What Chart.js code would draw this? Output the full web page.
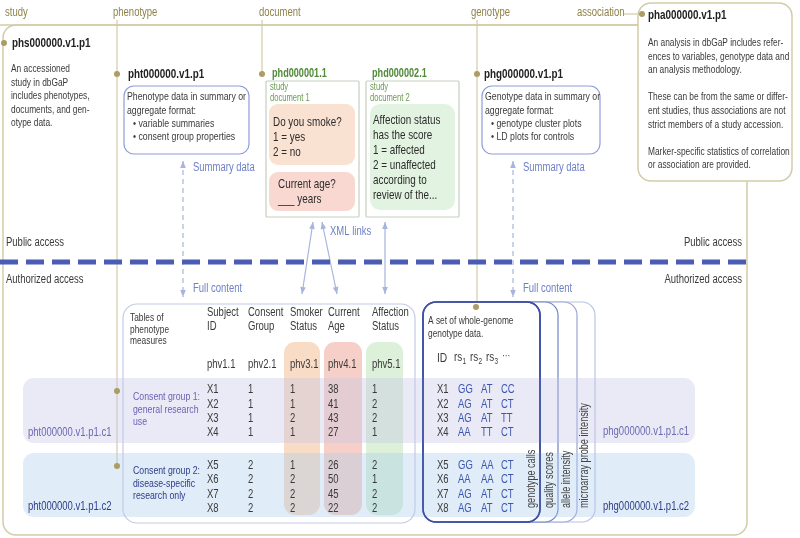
<!DOCTYPE html>
<html>
<head>
<meta charset="utf-8">
<script src="https://cdn.jsdelivr.net/npm/chart.js@4.4.0/dist/chart.umd.min.js"></script>
<style>
  html, body { margin: 0; padding: 0; background: #fff; }
  canvas { display: block; }
</style>
</head>
<body>
<canvas id="dbgapChart" width="800" height="538"></canvas>
<script>
// ---- diagram content ----
const columnLabels = ['study', 'phenotype', 'document', 'genotype', 'association'];
const studyId = 'phs000000.v1.p1';
const phenotypeId = 'pht000000.v1.p1';
const documentIds = ['phd000001.1', 'phd000002.1'];
const documentNames = [['study', 'document 1'], ['study', 'document 2']];
const genotypeId = 'phg000000.v1.p1';
const analysisId = 'pha000000.v1.p1';

const studyText = ['An accessioned', 'study in dbGaP', 'includes phenotypes,', 'documents, and gen-', 'otype data.'];
const analysisText = [
  'An analysis in dbGaP includes refer-', 'ences to variables, genotype data and', 'an analysis methodology.', '',
  'These can be from the same or differ-', 'ent studies, thus associations are not', 'strict members of a study accession.', '',
  'Marker-specific statistics of correlation', 'or association are provided.'
];
const phenotypeSummary = ['Phenotype data in summary or', 'aggregate format:', '• variable summaries', '• consent group properties'];
const genotypeSummary = ['Genotype data in summary or', 'aggregate format:', '• genotype cluster plots', '• LD plots for controls'];
const smokeQuestion = ['Do you smoke?', '1 = yes', '2 = no'];
const ageQuestion = ['Current age?', '___ years'];
const affectionQuestion = ['Affection status', 'has the score', '1 = affected', '2 = unaffected', 'according to', 'review of the...'];
const linkLabels = ['Summary data', 'Full content', 'XML links'];
const accessLabels = ['Public access', 'Authorized access'];

const tableTitle = ['Tables of', 'phenotype', 'measures'];
const tableHeaders = [['Subject', 'ID'], ['Consent', 'Group'], ['Smoker', 'Status'], ['Current', 'Age'], ['Affection', 'Status']];
const variableIds = ['phv1.1', 'phv2.1', 'phv3.1', 'phv4.1', 'phv5.1'];
const subjectIds = ['X1', 'X2', 'X3', 'X4', 'X5', 'X6', 'X7', 'X8'];
const consentGroup = [1, 1, 1, 1, 2, 2, 2, 2];
const smokerStatus = [1, 1, 2, 1, 1, 2, 2, 2];
const currentAge = [38, 41, 43, 27, 26, 50, 45, 22];
const affectionStatus = [1, 2, 2, 1, 2, 1, 2, 2];
const consentGroups = [['Consent group 1:', 'general research', 'use'], ['Consent group 2:', 'disease-specific', 'research only']];
const phenotypeSubsets = ['pht000000.v1.p1.c1', 'pht000000.v1.p1.c2'];
const genotypeSubsets = ['phg000000.v1.p1.c1', 'phg000000.v1.p1.c2'];

const genomeText = ['A set of whole-genome', 'genotype data.'];
const snpIds = ['1', '2', '3'];
const rs1Calls = ['GG', 'AG', 'AG', 'AA', 'GG', 'AA', 'AG', 'AG'];
const rs2Calls = ['AT', 'AT', 'AT', 'TT', 'AA', 'AA', 'AT', 'AT'];
const rs3Calls = ['CC', 'CT', 'TT', 'CT', 'CT', 'CT', 'CT', 'CT'];
const genotypeLayers = ['genotype calls', 'quality scores', 'allele intensity', 'microarray probe intensity'];

// ---- styling ----
const FONT = '"Liberation Sans", Arial, Helvetica, sans-serif';
const SQ = 0.76; // narrow type
const INK = '#3a3a3a';
const OLIVE_LINE = '#d3cba8';
const OLIVE_TEXT = '#8e8249';
const OLIVE_DOT = '#ab9d64';
const LINK_BLUE = '#6d81c6';
const ARROW_BLUE = '#a6b4de';
const GREEN = '#4f8b38';

const diagramPlugin = {
  id: 'diagram',
  afterDraw(chart) {
    const ctx = chart.ctx;
    const X = v => chart.scales.x.getPixelForValue(v);
    const Y = v => chart.scales.y.getPixelForValue(v);

    function text(s, x, y, size, color, o = {}) {
      ctx.save();
      ctx.font = (o.bold ? 'bold ' : '') + size + 'px ' + FONT;
      ctx.fillStyle = color;
      ctx.textBaseline = 'middle';
      ctx.textAlign = o.align || 'left';
      ctx.translate(X(x), Y(y));
      if (o.rot) ctx.rotate(o.rot);
      ctx.scale(SQ, 1);
      ctx.fillText(s, 0, 0);
      ctx.restore();
    }
    function lines(arr, x, y0, step, size, color, o) {
      arr.forEach((s, i) => { if (s) text(s, x, y0 + i * step, size, color, o); });
    }
    function rrect(x1, y1, x2, y2, r, fill, stroke, lw) {
      const a = X(x1), b = Y(y1), c = X(x2), d = Y(y2);
      ctx.beginPath();
      ctx.moveTo(a + r, b);
      ctx.arcTo(c, b, c, d, r);
      ctx.arcTo(c, d, a, d, r);
      ctx.arcTo(a, d, a, b, r);
      ctx.arcTo(a, b, c, b, r);
      ctx.closePath();
      if (fill) { ctx.fillStyle = fill; ctx.fill(); }
      if (stroke) { ctx.strokeStyle = stroke; ctx.lineWidth = lw || 1; ctx.stroke(); }
    }
    function line(x1, y1, x2, y2, color, lw, dash) {
      ctx.save();
      ctx.beginPath();
      ctx.setLineDash(dash || []);
      ctx.moveTo(X(x1), Y(y1));
      ctx.lineTo(X(x2), Y(y2));
      ctx.strokeStyle = color;
      ctx.lineWidth = lw || 1;
      ctx.stroke();
      ctx.restore();
    }
    function head(x, y, fromX, fromY, color) {
      const ang = Math.atan2(Y(y) - Y(fromY), X(x) - X(fromX));
      ctx.save();
      ctx.translate(X(x), Y(y));
      ctx.rotate(ang);
      ctx.beginPath();
      ctx.moveTo(0, 0);
      ctx.lineTo(-7, -2.8);
      ctx.lineTo(-7, 2.8);
      ctx.closePath();
      ctx.fillStyle = color;
      ctx.fill();
      ctx.restore();
    }
    function arrow2(x1, y1, x2, y2, dash) {
      line(x1, y1, x2, y2, ARROW_BLUE, 1.2, dash);
      head(x1, y1, x2, y2, ARROW_BLUE);
      head(x2, y2, x1, y1, ARROW_BLUE);
    }
    function dot(x, y) {
      ctx.beginPath();
      ctx.arc(X(x), Y(y), 3, 0, Math.PI * 2);
      ctx.fillStyle = OLIVE_DOT;
      ctx.fill();
    }

    ctx.save();

    // study frame and column rails
    line(0, 25, 640, 25, OLIVE_LINE, 1.5);
    rrect(3, 25, 747, 535, 13, null, OLIVE_LINE, 1.5);
    line(117, 20, 117, 466, OLIVE_LINE, 1.2);
    line(262, 20, 262, 74, OLIVE_LINE, 1.2);
    line(477, 20, 477, 307, OLIVE_LINE, 1.2);
    line(624, 14, 642, 14, OLIVE_LINE, 1.2);

    const labelX = [5, 113, 259, 471, 577];
    columnLabels.forEach((s, i) => text(s, labelX[i], 13, 12.5, OLIVE_TEXT));

    // association box
    rrect(638, 3, 792, 181, 13, '#fff', OLIVE_LINE, 1.5);
    text(analysisId, 648, 15, 13, '#222', { bold: true });
    lines(analysisText, 648, 43, 13.6, 11, INK);

    // study
    text(studyId, 12, 43, 13, '#222', { bold: true });
    lines(studyText, 11, 69, 13.5, 11, INK);

    // phenotype summary
    text(phenotypeId, 128, 74, 13, '#222', { bold: true });
    rrect(124, 86, 249, 154, 10, '#fff', '#8d9ed6', 1.2);
    phenotypeSummary.forEach((s, i) => text(s, i < 2 ? 127 : 133, 97 + i * 13.4, 11.5, INK));

    // genotype summary
    text(genotypeId, 484, 74, 13, '#222', { bold: true });
    rrect(482, 86, 600, 154, 10, '#fff', '#8d9ed6', 1.2);
    genotypeSummary.forEach((s, i) => text(s, i < 2 ? 485 : 491, 97 + i * 13.4, 11.5, INK));

    // documents
    const docX = [266, 366];
    documentIds.forEach((id, i) => {
      text(id, docX[i] + 6, 74, 12, GREEN, { bold: true });
      rrect(docX[i], 81, docX[i] + 93, 217, 1, '#fff', '#c6cfbf', 1.2);
      lines(documentNames[i], docX[i] + 4, 87, 11.5, 10, '#6c9a55');
    });
    rrect(269, 104, 355, 165, 9, '#f9e2d2', null);
    lines(smokeQuestion, 273, 122, 15, 13, '#2c2c2c');
    rrect(269, 172, 355, 211, 9, '#f8d8d0', null);
    lines(ageQuestion, 278, 184, 15, 13, '#2c2c2c');
    rrect(370, 104, 455, 210, 10, '#e3f3e1', null);
    lines(affectionQuestion, 373, 120, 15, 13, '#2c2c2c');

    // links between public and authorized parts
    arrow2(183, 161, 183, 297, [5, 4]);
    arrow2(513, 161, 513, 297, [5, 4]);
    text(linkLabels[0], 193, 168, 12.5, LINK_BLUE);
    text(linkLabels[0], 523, 168, 12.5, LINK_BLUE);
    text(linkLabels[1], 193, 289, 12.5, LINK_BLUE);
    text(linkLabels[1], 523, 289, 12.5, LINK_BLUE);
    arrow2(313, 222, 302, 294);
    arrow2(322, 222, 337, 294);
    arrow2(385, 222, 385, 294);
    text(linkLabels[2], 330, 232, 12.5, LINK_BLUE);

    // access boundary
    text(accessLabels[0], 6, 243, 12.5, INK);
    text(accessLabels[1], 6, 280, 12.5, INK);
    text(accessLabels[0], 742, 243, 12.5, INK, { align: 'right' });
    text(accessLabels[1], 742, 280, 12.5, INK, { align: 'right' });
    line(0, 262, 747, 262, '#4a5cb3', 5, [18, 8]);

    // phenotype table column highlights
    const colX = [207, 248, 290, 328, 372];
    rrect(284, 342, 320, 515, 11, '#f8dcc6', null);
    rrect(324, 342, 362, 515, 11, '#f6d0c8', null);
    rrect(366, 342, 403, 515, 11, '#dcf0da', null);

    // genotype layer stack (back to front)
    const stackRight = [540, 558, 577, 595];
    const stackStroke = ['#3e4fa6', '#7282c6', '#9aa6d8', '#bac3e6'];
    for (let i = 3; i >= 0; i--) {
      rrect(stackRight[i] - 117, 302, stackRight[i], 522, 13, '#fff', stackStroke[i], i === 0 ? 1.6 : 1.2);
    }

    // consent group bands
    rrect(23, 378, 695, 443, 11, 'rgba(196,196,230,0.36)', null);
    rrect(23, 453, 695, 517, 11, 'rgba(168,204,236,0.36)', null);

    // outlines over the bands
    rrect(123, 304, 415, 523, 14, null, '#c3cae6', 1.2);
    rrect(423, 302, 540, 522, 13, null, '#3e4fa6', 1.6);

    // table text
    lines(tableTitle, 130, 318, 11.5, 11, INK);
    tableHeaders.forEach((h, i) => lines(h, colX[i], 313, 14, 12.5, INK));
    variableIds.forEach((v, i) => text(v, colX[i], 365, 12.5, INK));
    const rowY = i => (i < 4 ? 390 : 465.5) + (i % 4) * 14.3;
    subjectIds.forEach((id, i) => {
      const y = rowY(i);
      text(id, colX[0], y, 12.5, INK);
      text(String(consentGroup[i]), colX[1], y, 12.5, INK);
      text(String(smokerStatus[i]), colX[2], y, 12.5, INK);
      text(String(currentAge[i]), colX[3], y, 12.5, INK);
      text(String(affectionStatus[i]), colX[4], y, 12.5, INK);
      text(id, 437, y, 12.5, INK);
      text(rs1Calls[i], 458, y, 12.5, '#3b56b0');
      text(rs2Calls[i], 481, y, 12.5, '#3b56b0');
      text(rs3Calls[i], 501, y, 12.5, '#3b56b0');
    });
    lines(consentGroups[0], 133, 397, 12.5, 11.5, '#6b62b6');
    lines(consentGroups[1], 133, 471, 12.5, 11.5, '#2e3b8c');
    text(phenotypeSubsets[0], 28, 433, 12.5, '#6b69b2');
    text(phenotypeSubsets[1], 28, 507, 12.5, '#2e3b8c');
    text(genotypeSubsets[0], 603, 432, 12.5, '#6b69b2');
    text(genotypeSubsets[1], 603, 507, 12.5, '#2e3b8c');

    // genotype block text
    lines(genomeText, 428, 321, 13, 11, INK);
    text('ID', 437, 358, 13.5, INK);
    snpIds.forEach((n, i) => {
      const x = 454 + i * 16;
      text('rs', x, 357, 13, INK);
      text(n, x + 8.5, 362, 8.5, INK);
    });
    text('···', 502, 356, 11, INK);
    const layerX = [532, 550, 567, 585];
    genotypeLayers.forEach((s, i) => text(s, layerX[i], 508, 12, '#444', { rot: -Math.PI / 2 }));

    // accession dots
    [[4, 43], [642, 14], [117, 74], [262, 74], [477, 74], [117, 391], [117, 466], [476, 307]]
      .forEach(p => dot(p[0], p[1]));

    ctx.restore();
  }
};

new Chart(document.getElementById('dbgapChart'), {
  type: 'scatter',
  data: { datasets: [{ data: [] }] },
  options: {
    responsive: false,
    animation: false,
    devicePixelRatio: 1,
    layout: { padding: 0 },
    plugins: { legend: { display: false }, tooltip: { enabled: false } },
    scales: {
      x: { type: 'linear', min: 0, max: 800, display: false },
      y: { type: 'linear', min: 0, max: 538, reverse: true, display: false }
    }
  },
  plugins: [diagramPlugin]
});
</script>
</body>
</html>
